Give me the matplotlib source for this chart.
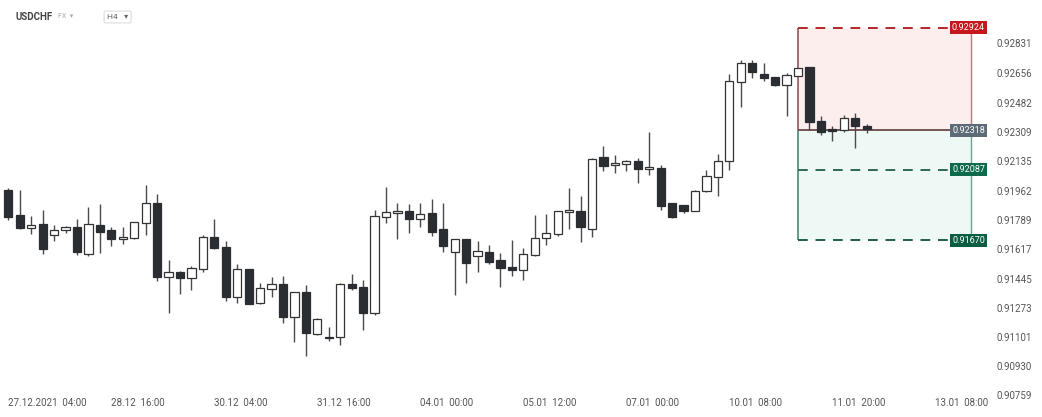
import matplotlib
matplotlib.use("Agg")
import matplotlib.pyplot as plt
import matplotlib.transforms as mtransforms
from matplotlib.patches import Rectangle
import numpy as np

plt.rcParams["font.family"] = ["Roboto", "DejaVu Sans"]

# USDCHF H4 candles, 27.12.2021 -> 11.01.2022
opens = [
    0.91967, 0.91818, 0.91742, 0.91767, 0.91704, 0.91730, 0.91749, 0.91592, 0.91761, 0.91730,
    0.91679, 0.91686, 0.91771, 0.91892, 0.91453, 0.91486, 0.91451, 0.91500, 0.91692, 0.91631,
    0.91339, 0.91500, 0.91300, 0.91382, 0.91412, 0.91217, 0.91365, 0.91117, 0.91103, 0.91100,
    0.91414, 0.91396, 0.91243, 0.91806, 0.91830, 0.91842, 0.91795, 0.91830, 0.91736, 0.91602,
    0.91677, 0.91577, 0.91602, 0.91553, 0.91512, 0.91494, 0.91583, 0.91686, 0.91710, 0.91838,
    0.91845, 0.91736, 0.92160, 0.92114, 0.92118, 0.92140, 0.92093, 0.92098, 0.91889, 0.91877,
    0.91845, 0.91959, 0.92045, 0.92136, 0.92601, 0.92713, 0.92648, 0.92631, 0.92584, 0.92640,
    0.92693, 0.92373, 0.92325, 0.92320, 0.92389, 0.92344,
]
highs = [
    0.91981, 0.91967, 0.91812, 0.91849, 0.91761, 0.91757, 0.91798, 0.91869, 0.91883, 0.91751,
    0.91749, 0.91779, 0.91997, 0.91944, 0.91555, 0.91488, 0.91520, 0.91702, 0.91795, 0.91667,
    0.91530, 0.91502, 0.91418, 0.91453, 0.91461, 0.91366, 0.91406, 0.91215, 0.91162, 0.91418,
    0.91472, 0.91437, 0.91849, 0.91986, 0.91892, 0.91885, 0.91889, 0.91912, 0.91892, 0.91677,
    0.91680, 0.91665, 0.91643, 0.91598, 0.91673, 0.91624, 0.91820, 0.91824, 0.91845, 0.91977,
    0.91932, 0.92154, 0.92226, 0.92173, 0.92142, 0.92154, 0.92309, 0.92114, 0.91892, 0.91879,
    0.91967, 0.92085, 0.92179, 0.92650, 0.92733, 0.92733, 0.92713, 0.92634, 0.92654, 0.92688,
    0.92693, 0.92403, 0.92344, 0.92407, 0.92422, 0.92356,
]
lows = [
    0.91790, 0.91739, 0.91706, 0.91588, 0.91667, 0.91714, 0.91584, 0.91577, 0.91596, 0.91639,
    0.91651, 0.91679, 0.91702, 0.91431, 0.91245, 0.91353, 0.91378, 0.91486, 0.91620, 0.91315,
    0.91303, 0.91295, 0.91298, 0.91339, 0.91182, 0.91070, 0.90991, 0.91111, 0.91076, 0.91053,
    0.91378, 0.91143, 0.91230, 0.91771, 0.91677, 0.91716, 0.91751, 0.91696, 0.91602, 0.91349,
    0.91418, 0.91486, 0.91531, 0.91394, 0.91461, 0.91437, 0.91580, 0.91643, 0.91696, 0.91739,
    0.91663, 0.91692, 0.92081, 0.92069, 0.92081, 0.92007, 0.92055, 0.91849, 0.91800, 0.91833,
    0.91843, 0.91957, 0.91932, 0.92085, 0.92454, 0.92625, 0.92611, 0.92580, 0.92405, 0.92638,
    0.92320, 0.92291, 0.92257, 0.92310, 0.92216, 0.92305,
]
closes = [
    0.91810, 0.91742, 0.91759, 0.91620, 0.91730, 0.91747, 0.91600, 0.91765, 0.91718, 0.91680,
    0.91692, 0.91777, 0.91892, 0.91457, 0.91484, 0.91451, 0.91510, 0.91692, 0.91624, 0.91339,
    0.91500, 0.91297, 0.91388, 0.91412, 0.91217, 0.91365, 0.91123, 0.91206, 0.91094, 0.91415,
    0.91388, 0.91241, 0.91814, 0.91838, 0.91843, 0.91795, 0.91826, 0.91722, 0.91639, 0.91677,
    0.91539, 0.91608, 0.91545, 0.91506, 0.91494, 0.91590, 0.91683, 0.91712, 0.91845, 0.91849,
    0.91747, 0.92152, 0.92110, 0.92124, 0.92140, 0.92089, 0.92101, 0.91873, 0.91808, 0.91845,
    0.91963, 0.92051, 0.92140, 0.92607, 0.92717, 0.92664, 0.92625, 0.92584, 0.92644, 0.92684,
    0.92369, 0.92310, 0.92315, 0.92393, 0.92344, 0.92326,
]

time_labels = ["27.12.2021  04:00", "28.12  16:00", "30.12  04:00", "31.12  16:00",
               "04.01  00:00", "05.01  12:00", "07.01  00:00", "10.01  08:00",
               "11.01  20:00", "13.01  08:00"]
time_label_bars = [2, 11, 20, 29, 38, 47, 56, 65, 74, 83]

price_ticks = [0.92831, 0.92656, 0.92482, 0.92309, 0.92135, 0.91962, 0.91789,
               0.91617, 0.91445, 0.91273, 0.91101, 0.90930, 0.90759]

# trade setup (short)
stop_level = 0.92924
entry_level = 0.92318
target1_level = 0.92087
target2_level = 0.91670
setup_start_bar = 69
setup_end_bar = 84.1

W, H = 1042, 417
fig = plt.figure(figsize=(W / 100, H / 100), dpi=100)
ax = fig.add_axes([0, 19 / H, 990 / W, 398 / H])
ax.set_xlim(-0.725, 85.78)
ax.set_ylim(0.90742, 0.93086)
for s in ax.spines.values():
    s.set_visible(False)

# setup zones
span = setup_end_bar - setup_start_bar
ax.add_patch(Rectangle((setup_start_bar, entry_level), span, stop_level - entry_level,
                       facecolor="#fdeeee", edgecolor="none", zorder=0))
ax.add_patch(Rectangle((setup_start_bar, target2_level), span, entry_level - target2_level,
                       facecolor="#eef8f5", edgecolor="none", zorder=0))
ax.vlines([setup_start_bar], entry_level, stop_level, color="#8e4a4a", lw=1.1, zorder=1)
ax.vlines([setup_end_bar], entry_level, stop_level, color="#b87a7a", lw=1.0, zorder=1)
ax.vlines([setup_start_bar], target2_level, entry_level, color="#3f7d6c", lw=1.1, zorder=1)
ax.vlines([setup_end_bar], target2_level, entry_level, color="#6aa595", lw=1.0, zorder=1)

ax.hlines(stop_level, setup_start_bar, setup_end_bar, color="#b3262b", lw=1.4,
          linestyles=(0, (5, 4)), zorder=1)
ax.hlines(entry_level, setup_start_bar, setup_end_bar, color="#6b4848", lw=1.3, zorder=1)
ax.hlines(target1_level, setup_start_bar, setup_end_bar, color="#2e6a55", lw=1.4,
          linestyles=(0, (5, 4)), zorder=1)
ax.hlines(target2_level, setup_start_bar, setup_end_bar, color="#1f5e47", lw=1.4,
          linestyles=(0, (5, 4)), zorder=1)

# candles
x = np.arange(len(opens))
o = np.array(opens)
c = np.array(closes)
up = c >= o
ax.vlines(x, lows, highs, color="#4a4a4a", lw=1.0, zorder=2)
body_bottom = np.minimum(o, c)
body_height = np.maximum(np.abs(c - o), 0.00008)
ax.bar(x[up], body_height[up], bottom=body_bottom[up], width=0.72,
       color="white", edgecolor="#333333", linewidth=0.9, zorder=3)
ax.bar(x[~up], body_height[~up], bottom=body_bottom[~up], width=0.72,
       color="#2a2e33", edgecolor="#2a2e33", linewidth=0.9, zorder=3)

# price axis on the right
ax.set_xticks([])
ax.set_yticks(price_ticks)
ax.set_yticklabels([f"{v:.5f}" for v in price_ticks])
ax.tick_params(axis="y", left=False, labelleft=False, right=False, labelright=True,
               length=0, pad=5, labelsize=7, labelcolor="#555555")

# level badges
badge_x = 968.5 / 990
for level, col in [(stop_level, "#c8161d"), (entry_level, "#5d6b78"),
                   (target1_level, "#0d6b4c"), (target2_level, "#0b5e42")]:
    ax.text(badge_x, level, f"{level:.5f}",
            transform=mtransforms.blended_transform_factory(ax.transAxes, ax.transData),
            ha="center", va="center", fontsize=6.5, color="white", zorder=5,
            bbox=dict(boxstyle="square,pad=0.22", facecolor=col, edgecolor="none"))

# time axis labels
trans_x = mtransforms.blended_transform_factory(ax.transData, fig.transFigure)
for i, (bar_i, lab) in enumerate(zip(time_label_bars, time_labels)):
    if i == 0:
        ax.text(-0.05, 14 / H, lab, transform=trans_x, ha="left", va="center",
                fontsize=7, color="#555555")
    else:
        ax.text(bar_i + 0.3, 14 / H, lab, transform=trans_x, ha="center", va="center",
                fontsize=7, color="#555555")

# header
fig.text(16 / W, 1 - 17 / H, "USDCHF", fontsize=7, fontweight="bold", color="#444444",
         ha="left", va="center")
fig.text(58 / W, 1 - 17 / H, "FX  ▾", fontsize=5, color="#aaaaaa", ha="left", va="center")
fig.text(107 / W, 1 - 17 / H, "H4   ▾", fontsize=6, color="#666666", ha="left", va="center",
         bbox=dict(boxstyle="round,pad=0.35,rounding_size=0.2", facecolor="white",
                   edgecolor="#dddddd", linewidth=0.8))

fig.savefig("out.png", dpi=100, facecolor="white")
